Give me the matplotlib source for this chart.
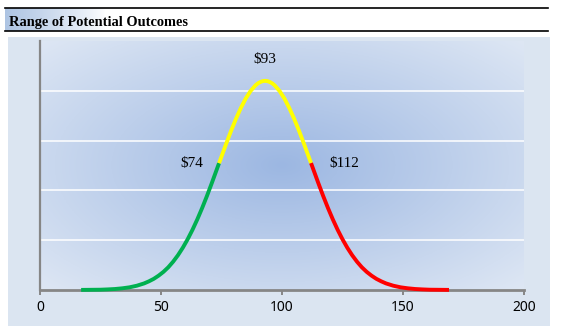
import matplotlib.pyplot as plt
import matplotlib.patches as patches
import numpy as np

# outcome values and their relative likelihood
outcome = [17, 21, 25, 28, 31, 34, 37, 40, 43, 45, 47, 49, 51, 53, 55, 57, 59,
           61, 63, 65, 67, 69, 71, 74, 77, 79, 81, 83, 85, 87, 89, 90, 91, 92,
           93, 94, 95, 96, 97, 99, 101, 103, 105, 107, 109, 112, 115, 117, 119,
           121, 123, 125, 127, 129, 131, 133, 135, 137, 139, 141, 143, 146, 149,
           152, 155, 158, 161, 165, 169]
likelihood = [0.00001, 0.00002, 0.00003, 0.00006, 0.00010, 0.00017, 0.00027,
              0.00043, 0.00066, 0.00087, 0.00112, 0.00144, 0.00182, 0.00228,
              0.00284, 0.00349, 0.00424, 0.00509, 0.00604, 0.00709, 0.00823,
              0.00945, 0.01074, 0.01274, 0.01473, 0.01601, 0.01720, 0.01828,
              0.01922, 0.01998, 0.02054, 0.02074, 0.02088, 0.02097, 0.02100,
              0.02097, 0.02088, 0.02074, 0.02054, 0.01998, 0.01922, 0.01828,
              0.01720, 0.01601, 0.01473, 0.01274, 0.01074, 0.00945, 0.00823,
              0.00709, 0.00604, 0.00509, 0.00424, 0.00349, 0.00284, 0.00228,
              0.00182, 0.00144, 0.00112, 0.00087, 0.00066, 0.00043, 0.00027,
              0.00017, 0.00010, 0.00006, 0.00003, 0.00002, 0.00001]

low_value = 74
mid_value = 93
high_value = 112
x_ticks = [0, 50, 100, 150, 200]

W, H = 561, 334
fig = plt.figure(figsize=(W / 100, H / 100), dpi=100)
fig.patch.set_facecolor('white')

def px(x0, y0, x1, y1):
    return [x0 / W, 1 - y1 / H, (x1 - x0) / W, (y1 - y0) / H]

# title bar with fading blue on the left
tax = fig.add_axes(px(5, 8, 548, 31))
tax.set_xlim(0, 543)
tax.set_ylim(0, 1)
grad = np.clip(1 - np.linspace(0, 543, 543) / 100, 0, 1) ** 0.8
c0 = np.array([0.68, 0.77, 0.89])
img = (1 - grad[:, None]) * 1.0 + grad[:, None] * c0
tax.imshow(img[None, :, :], extent=[0, 543, 0, 1], aspect='auto')
tax.axis('off')
fig.add_artist(plt.Line2D([5 / W, 548 / W], [1 - 8 / H] * 2, color='black', lw=1.2))
fig.add_artist(plt.Line2D([5 / W, 548 / W], [1 - 31 / H] * 2, color='black', lw=1.2))
fig.text(9 / W, 1 - 26 / H, 'Range of Potential Outcomes', family='Liberation Serif',
         weight='bold', fontsize=10.4, va='baseline', ha='left')

# chart area background
fig.add_artist(patches.Rectangle((8 / W, 1 - 326 / H), 542 / W, 289 / H,
                                 transform=fig.transFigure, facecolor='#dbe5f1',
                                 edgecolor='none', zorder=0))

ax = fig.add_axes(px(40, 41, 524, 290))
ax.set_xlim(0, 200)
ax.set_ylim(0, 0.025)

# radial shading of the plot area
gx, gy = np.meshgrid(np.linspace(-1, 1, 300), np.linspace(-1, 1, 200))
r = np.clip(np.sqrt(gx ** 2 + gy ** 2) / 1.414, 0, 1)[..., None]
center = np.array([0x9c, 0xb7, 0xe2]) / 255
edge = np.array([0xde, 0xe7, 0xf4]) / 255
ax.imshow(center + (edge - center) * r, extent=[0, 200, 0, 0.025],
          aspect='auto', zorder=0)

ax.set_yticks([0.005, 0.010, 0.015, 0.020])
ax.yaxis.grid(True, color='white', lw=1.3, alpha=0.85, zorder=1)
ax.tick_params(axis='y', left=False, labelleft=False)
ax.set_xticks(x_ticks)
ax.set_xticklabels([str(t) for t in x_ticks], family='Noto Sans', fontsize=10)
ax.tick_params(axis='x', direction='out', length=3.5, width=1.4, color='#868686',
               pad=4)
for s in ['top', 'right']:
    ax.spines[s].set_visible(False)
ax.spines['left'].set_color('#868686')
ax.spines['left'].set_linewidth(1.6)
ax.spines['bottom'].set_color('#868686')
ax.spines['bottom'].set_linewidth(2)

xs = np.array(outcome)
ys = np.array(likelihood)
parts = [(xs <= low_value, '#00b050'),
         ((xs >= low_value) & (xs <= high_value), '#ffff00'),
         (xs >= high_value, '#ff0000')]
for mask, col in parts:
    ax.plot(xs[mask], ys[mask], color=col, lw=2.8, solid_capstyle='butt',
            solid_joinstyle='round', zorder=3, clip_on=False)

lab = dict(family='Liberation Serif', fontsize=11, ha='center', va='center',
           textcoords='offset pixels')
y_at = dict(zip(outcome, likelihood))
ax.annotate('$%d' % mid_value, (mid_value, y_at[mid_value]), xytext=(0, 21), **lab)
ax.annotate('$%d' % low_value, (low_value, y_at[low_value]), xytext=(-27, 0), **lab)
ax.annotate('$%d' % high_value, (high_value, y_at[high_value]), xytext=(33, 0), **lab)

fig.savefig('out.png', dpi=100)
